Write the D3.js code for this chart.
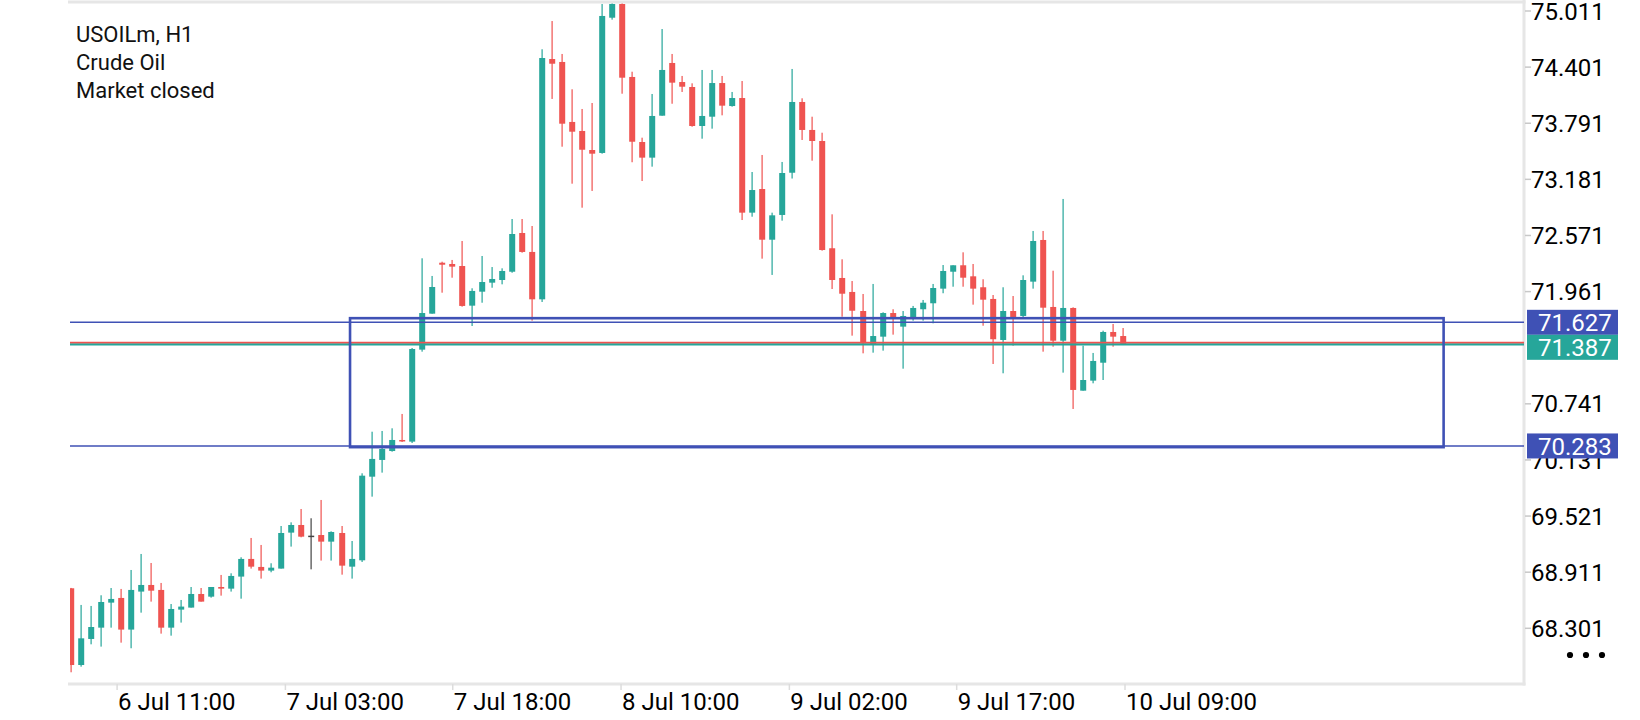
<!DOCTYPE html>
<html>
<head>
<meta charset="utf-8">
<script src="https://cdn.jsdelivr.net/npm/d3@7"></script>
<style>
  html, body { margin: 0; padding: 0; background: #ffffff; }
  svg { display: block; font-family: Roboto, "Noto Sans", sans-serif; }
</style>
</head>
<body>
<svg id="chart" width="1640" height="720"></svg>
<script>
// ---- data ----
const opens  = [68.736,67.902,68.185,68.308,68.580,68.631,68.287,68.700,68.772,68.718,
                68.308,68.504,68.526,68.674,68.645,68.750,68.732,68.863,69.055,68.968,
                68.928,68.950,69.341,69.424,69.308,69.315,69.243,69.337,68.971,69.040,
                69.949,70.131,70.228,70.348,70.330,71.330,71.721,72.275,72.261,72.239,
                71.808,71.960,72.058,72.087,72.177,72.598,72.392,71.877,74.489,74.457,
                73.805,73.707,73.500,73.468,74.938,75.087,74.294,73.587,73.417,73.873,
                74.446,74.239,74.185,73.761,73.862,74.228,73.978,74.065,72.819,73.076,
                72.525,72.794,73.253,74.022,73.718,73.598,72.432,72.109,71.957,71.750,
                71.381,71.471,71.728,71.580,71.667,71.769,71.834,71.993,72.177,72.247,
                72.127,72.008,71.881,71.435,71.750,71.696,72.069,72.522,71.794,71.427,
                71.783,70.884,70.993,71.188,71.522,71.478];
const highs  = [68.740,68.555,68.544,68.660,68.739,68.729,68.935,69.109,69.011,68.794,
                68.565,68.609,68.750,68.739,68.750,68.881,68.899,69.073,69.283,69.207,
                69.008,69.413,69.453,69.598,69.497,69.696,69.355,69.413,69.250,69.986,
                70.438,70.446,70.475,70.631,71.348,72.323,72.131,72.286,72.305,72.511,
                71.997,72.348,72.228,72.214,72.750,72.750,72.674,74.595,74.902,74.544,
                74.160,73.946,74.011,75.087,75.120,75.120,74.351,73.634,74.109,74.815,
                74.544,74.305,74.225,74.370,74.370,74.305,74.131,74.250,73.261,73.446,
                72.819,73.370,74.381,74.062,73.862,73.688,72.801,72.312,72.076,71.935,
                72.044,71.736,71.769,71.750,71.805,71.870,72.044,72.250,72.247,72.388,
                72.261,72.095,71.924,72.008,71.913,72.138,72.620,72.620,72.188,72.968,
                71.790,71.373,71.294,71.536,71.609,71.565];
const lows   = [67.823,67.884,68.127,68.102,68.308,68.145,68.084,68.471,68.591,68.243,
                68.221,68.363,68.526,68.591,68.634,68.656,68.700,68.623,68.950,68.841,
                68.910,68.950,69.189,69.290,68.942,69.037,69.037,68.884,68.841,69.022,
                69.732,69.993,70.221,70.326,70.315,71.308,71.721,71.949,72.112,71.797,
                71.587,71.840,72.003,72.040,72.166,72.384,71.645,71.848,74.055,73.536,
                73.134,72.873,73.055,73.460,74.917,74.112,73.367,73.163,73.319,73.873,
                74.003,74.131,73.753,73.623,73.732,73.877,73.971,72.739,72.775,72.319,
                72.142,72.732,73.190,73.609,73.384,72.406,71.989,71.688,71.482,71.290,
                71.297,71.319,71.493,71.123,71.645,71.645,71.616,71.943,72.014,72.014,
                71.819,71.590,71.174,71.073,71.373,71.682,71.993,71.308,71.362,71.080,
                70.685,70.884,70.964,71.000,71.362,71.380];
const closes = [67.902,68.192,68.315,68.587,68.620,68.287,68.718,68.772,68.710,68.308,
                68.511,68.537,68.674,68.591,68.750,68.732,68.870,69.055,68.971,68.928,
                68.960,69.337,69.424,69.297,69.308,69.243,69.348,68.982,69.055,69.960,
                70.142,70.250,70.348,70.337,71.337,71.728,72.011,72.253,72.232,71.805,
                71.968,72.065,72.098,72.185,72.587,72.392,71.877,74.500,74.438,73.786,
                73.699,73.503,73.460,74.957,75.087,74.286,73.590,73.417,73.870,74.370,
                74.232,74.188,73.761,73.870,74.228,73.982,74.065,72.819,73.065,72.525,
                72.790,73.250,74.022,73.718,73.598,72.413,72.087,71.938,71.753,71.399,
                71.478,71.728,71.682,71.696,71.783,71.840,72.000,72.185,72.247,72.112,
                71.993,71.873,71.443,71.750,71.685,72.087,72.511,71.786,71.427,71.783,
                70.892,71.000,71.207,71.522,71.471,71.387];

const priceTicks = [75.011, 74.401, 73.791, 73.181, 72.571, 71.961, 71.351, 70.741, 70.131, 69.521, 68.911, 68.301];
const priceTickLabels = ["75.011","74.401","73.791","73.181","72.571","71.961","","70.741","70.131","69.521","68.911","68.301"];
const timeTickLabels = ["6 Jul 11:00","7 Jul 03:00","7 Jul 18:00","8 Jul 10:00","9 Jul 02:00","9 Jul 17:00","10 Jul 09:00"];
const timeTickBars = [4.6, 21.4, 38.1, 54.9, 71.7, 88.4, 105.2];

const titleLines = ["USOILm, H1", "Crude Oil", "Market closed"];

const levelLines = [71.627, 70.283];
const bidPrice = 71.387;
const askPrice = 71.404;
const zoneBox = { fromBar: 27.85, toBar: 137, top: 71.672, bottom: 70.270 };

// ---- layout ----
const W = 1640, H = 720;
const plotLeft = 68, plotRight = 1524, plotTop = 2, plotBottom = 684;
const GREEN = "#26a69a", RED = "#ef5350", INDIGO = "#3f51b5", FRAME = "#e6e6e6";

const svg = d3.select("#chart");

const x = d3.scaleLinear().domain([0, 105]).range([71, 1123]);
const y = d3.scaleLinear().domain([68.301, 75.011]).range([628.3, 11]);

const candles = opens.map((o, i) => ({ i, o, h: highs[i], l: lows[i], c: closes[i] }));

svg.append("defs").append("clipPath").attr("id", "plotclip")
  .append("rect").attr("x", 70).attr("y", 3.5)
  .attr("width", plotRight - 70).attr("height", plotBottom - 3.5 - 1.5);

// frame
svg.append("line").attr("x1", plotLeft).attr("x2", plotRight + 1.5)
  .attr("y1", plotTop).attr("y2", plotTop).attr("stroke", FRAME).attr("stroke-width", 3);
svg.append("line").attr("x1", plotLeft).attr("x2", plotRight + 1.5)
  .attr("y1", plotBottom).attr("y2", plotBottom).attr("stroke", FRAME).attr("stroke-width", 3);
svg.append("line").attr("x1", plotRight).attr("x2", plotRight)
  .attr("y1", 0).attr("y2", plotBottom + 1.5).attr("stroke", FRAME).attr("stroke-width", 3);

const plot = svg.append("g").attr("clip-path", "url(#plotclip)");

const colorOf = d => d.c > d.o ? GREEN : (d.c < d.o ? RED : "#444444");

// wicks
plot.append("g").selectAll("rect").data(candles).join("rect")
  .attr("x", d => Math.round(x(d.i)) - 0.5)
  .attr("width", 1.2)
  .attr("y", d => y(d.h))
  .attr("height", d => Math.max(1, y(d.l) - y(d.h)))
  .attr("fill", colorOf);

// bodies
plot.append("g").selectAll("rect").data(candles).join("rect")
  .attr("x", d => Math.round(x(d.i)) - 2.8)
  .attr("width", 6)
  .attr("y", d => y(Math.max(d.o, d.c)))
  .attr("height", d => Math.max(1.5, Math.abs(y(d.o) - y(d.c))))
  .attr("fill", colorOf);

// bid / ask lines
plot.append("line").attr("x1", plotLeft).attr("x2", plotRight)
  .attr("y1", y(askPrice)).attr("y2", y(askPrice)).attr("stroke", RED).attr("stroke-width", 2);
plot.append("line").attr("x1", plotLeft).attr("x2", plotRight)
  .attr("y1", y(bidPrice)).attr("y2", y(bidPrice)).attr("stroke", GREEN).attr("stroke-width", 2);

// horizontal level lines
plot.append("g").selectAll("line").data(levelLines).join("line")
  .attr("x1", plotLeft).attr("x2", plotRight)
  .attr("y1", d => y(d)).attr("y2", d => y(d))
  .attr("stroke", INDIGO).attr("stroke-width", 1.6);

// zone rectangle
plot.append("rect")
  .attr("x", x(zoneBox.fromBar)).attr("y", y(zoneBox.top))
  .attr("width", x(zoneBox.toBar) - x(zoneBox.fromBar))
  .attr("height", y(zoneBox.bottom) - y(zoneBox.top))
  .attr("fill", "none").attr("stroke", INDIGO).attr("stroke-width", 2.6);

// title text
svg.append("g").selectAll("text").data(titleLines).join("text")
  .attr("x", 76).attr("y", (d, k) => 41.7 + k * 28)
  .attr("font-size", 22).attr("fill", "#111")
  .text(d => d);

// price axis
const pa = svg.append("g");
priceTicks.forEach((v, k) => {
  if (!priceTickLabels[k]) return;
  pa.append("line").attr("x1", plotRight + 1).attr("x2", plotRight + 7)
    .attr("y1", y(v)).attr("y2", y(v)).attr("stroke", "#c8c8c8").attr("stroke-width", 1.5);
  pa.append("text").attr("x", 1531).attr("y", y(v)).attr("dy", "0.36em")
    .attr("font-size", 24).attr("fill", "#000").text(priceTickLabels[k]);
});

// price tags (with simple overlap avoidance)
const tags = [
  { v: levelLines[0], fill: INDIGO },
  { v: bidPrice, fill: GREEN },
  { v: levelLines[1], fill: INDIGO }
].sort((a, b) => b.v - a.v);
const tagH = 25;
let lastBottom = -Infinity;
tags.forEach(t => {
  let top = y(t.v) - tagH / 2;
  if (top < lastBottom) top = lastBottom;
  lastBottom = top + tagH;
  pa.append("rect").attr("x", 1527).attr("y", top).attr("width", 91).attr("height", tagH).attr("fill", t.fill);
  pa.append("text").attr("x", 1538).attr("y", top + tagH / 2).attr("dy", "0.36em")
    .attr("font-size", 24).attr("fill", "#fff").text(t.v.toFixed(3));
});

// dots
pa.selectAll("circle").data([0, 1, 2]).join("circle")
  .attr("cx", d => 1570 + d * 16).attr("cy", 655).attr("r", 3.1).attr("fill", "#000");

// time axis
const ta = svg.append("g");
timeTickBars.forEach((b, k) => {
  ta.append("line").attr("x1", x(b)).attr("x2", x(b)).attr("y1", plotBottom).attr("y2", plotBottom + 6)
    .attr("stroke", "#dcdcdc").attr("stroke-width", 1.5);
  ta.append("text").attr("x", x(b) + 1).attr("y", 710)
    .attr("font-size", 24).attr("fill", "#000").text(timeTickLabels[k]);
});
</script>
</body>
</html>
